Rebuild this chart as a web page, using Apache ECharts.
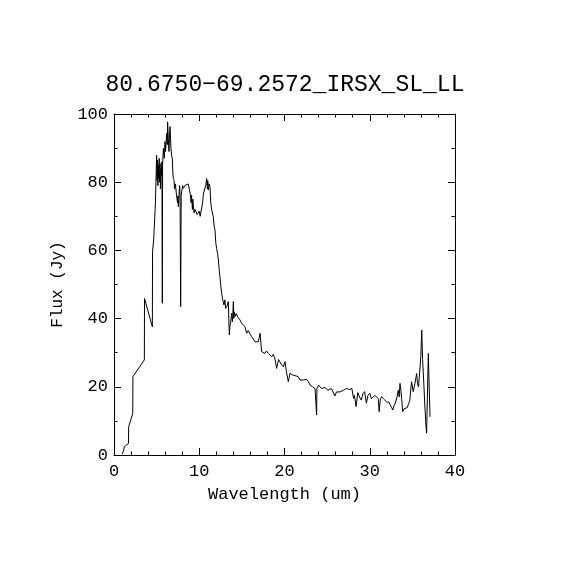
<!DOCTYPE html>
<html>
<head>
<meta charset="utf-8">
<script src="https://cdn.jsdelivr.net/npm/echarts@6/dist/echarts.min.js"></script>
<style>html,body{margin:0;padding:0;background:#fff;}#c{width:570px;height:570px;}</style>
</head>
<body>
<div id="c"></div>
<script>
var titleText = '80.6750\u221269.2572_IRSX_SL_LL';
var xName = 'Wavelength (um)';
var yName = 'Flux (Jy)';
var xTicks = [0, 10, 20, 30, 40];
var yTicks = [0, 20, 40, 60, 80, 100];

var wavelength = [0.95,1.15,1.2,1.7,1.72,2.2,2.22,3.56,3.58,4.5,4.52,4.65,4.85,5.0,
5.05,5.1,5.15,5.2,5.25,5.3,5.35,5.4,5.45,5.5,5.55,5.62,5.67,5.7,5.79,5.9,5.98,6.05,6.18,6.25,6.29,6.37,6.45,6.5,6.57,6.68,6.75,6.84,6.9,6.96,7.05,7.1,7.2,7.3,7.35,7.45,7.5,7.55,7.6,7.7,7.75,7.82,7.88,7.94,8.05,8.13,8.3,8.5,8.7,8.84,8.95,9.05,9.1,9.2,9.25,9.3,9.4,9.5,9.62,9.75,9.9,10.0,10.1,10.28,10.4,10.48,10.6,10.75,10.87,10.95,11.0,11.07,11.15,11.26,11.35,11.46,11.55,11.65,11.75,11.85,11.95,12.04,12.15,12.24,12.35,12.43,12.55,12.63,12.75,12.83,12.9,13.0,13.1,13.14,13.22,13.3,13.41,13.53,13.6,13.7,13.8,13.9,14.0,14.05,14.1,14.19,14.35,14.5,14.65,14.78,14.98,15.15,15.37,15.56,15.75,15.95,16.15,16.35,16.54,16.75,16.93,17.13,17.32,17.5,17.71,17.9,18.1,18.3,18.5,18.7,18.9,19.08,19.3,19.47,19.65,19.87,20.06,20.25,20.45,20.65,20.9,21.2,21.43,21.6,21.82,22.2,22.6,22.8,23.0,23.3,23.58,23.77,23.8,24.0,24.17,24.35,24.56,24.75,24.95,25.1,25.3,25.5,25.7,25.9,26.1,26.3,26.5,26.7,26.9,27.1,27.3,27.6,27.9,28.1,28.2,28.4,28.6,28.8,29.0,29.2,29.4,29.6,29.8,30.0,30.2,30.4,30.6,30.8,31.0,31.1,31.25,31.4,31.6,31.8,32.0,32.1,32.25,32.4,32.55,32.7,32.85,33.0,33.2,33.35,33.45,33.55,33.65,33.74,33.86,34.0,34.2,34.4,34.55,34.7,34.9,35.1,35.3,35.5,35.6,35.72,35.8,35.99,36.1,36.2,36.36,36.45,36.6,36.67,36.87,36.95,37.07];

var flux = [0.3,1.5,2.4,3.4,8.3,12.2,23.0,27.9,45.9,37.6,59.6,63,73.3,87.9,
80.5,86.5,79,85,81,87,80,85.5,78,84,82,86,44.5,85,89.9,87,91.9,89,94.3,91,97.7,92.9,89,93,96.3,90,88,87,83,81.1,80.5,78,79.5,77,77.2,74,76,72.8,75,79,76,43.5,76,77.2,79,78.2,79,78.8,79.5,79.2,76.5,74,76.2,72,75,73.3,71,72,71.4,70.5,70.4,71.5,70,69.9,74,76.5,77,79,81.1,78,80.5,77.7,79.5,78.7,74,71.9,72,69.9,67,65.9,62,60.6,59,57.2,54,52.3,49,47.4,45.5,45.4,44,45.5,43,43.5,42.5,44,45.0,35.2,38,39,41.6,39,45.0,40,42,40.6,41.5,40.5,40,39.6,38.6,39,37.6,35.7,36.5,35.5,34.7,34.5,33.2,33.5,33.2,35.7,30.3,30.5,29.8,30.5,29.8,30,28.8,29.5,27.9,25.4,28,27.9,26.5,25.9,27.4,24,21.5,24.0,23.5,23.3,23.5,23,22.0,22,22.2,21.5,20.5,20,19.5,11.7,19.5,20.5,20.0,19.5,19.0,19.8,19.5,19,18.6,19.5,18.5,17.3,18.5,19.0,18.5,18.8,19,19.5,19.5,19.2,19.5,16.6,17.5,14.2,18.3,17,16.1,18,18.6,15.2,17.5,18.1,16.5,16.1,17.5,17.6,16.5,12.7,16.5,17.1,16.5,16.9,15.5,15.2,15.5,14.7,14,13.2,14.5,15.2,17.1,19,17,21.0,19,16.6,12.7,13.5,13.2,13.9,15.0,16,21.5,18.6,21,23.9,21,20,22.5,28.8,36.6,28,20,15,8.3,6.4,29.8,22,11.2];

var points = wavelength.map(function (w, i) { return [w, flux[i]]; });

var font = 'Liberation Mono';
var chart = echarts.init(document.getElementById('c'));
var axisCommon = {
  axisLine: { show: true, onZero: false, lineStyle: { color: '#000', width: 1 } },
  axisTick: { show: true, inside: true, length: 7, lineStyle: { color: '#000', width: 1 } },
  minorTick: { show: true, length: 3.5, lineStyle: { color: '#000', width: 1 } },
  splitLine: { show: false },
  minorSplitLine: { show: false }
};
chart.setOption({
  animation: false,
  backgroundColor: '#fff',
  title: {
    text: titleText, left: 'center', top: 68,
    textStyle: { fontFamily: font, fontSize: 23, fontWeight: 'normal', color: '#000' }
  },
  grid: { left: 114, right: 115, top: 114, bottom: 115, containLabel: false },
  xAxis: [
    Object.assign({}, axisCommon, {
      type: 'value', position: 'bottom', min: xTicks[0], max: xTicks[xTicks.length - 1], interval: 10,
      minorTick: Object.assign({}, axisCommon.minorTick, { splitNumber: 5 }),
      name: xName, nameLocation: 'middle', nameGap: 31,
      nameTextStyle: { fontFamily: font, fontSize: 17, color: '#000' },
      axisLabel: { fontFamily: font, fontSize: 17, color: '#000', margin: 8 }
    }),
    Object.assign({}, axisCommon, {
      type: 'value', position: 'top', min: xTicks[0], max: xTicks[xTicks.length - 1], interval: 10,
      minorTick: Object.assign({}, axisCommon.minorTick, { splitNumber: 5 }),
      axisLabel: { show: false }
    })
  ],
  yAxis: [
    Object.assign({}, axisCommon, {
      type: 'value', position: 'left', min: yTicks[0], max: yTicks[yTicks.length - 1], interval: 20,
      minorTick: Object.assign({}, axisCommon.minorTick, { splitNumber: 2 }),
      name: yName, nameLocation: 'middle', nameGap: 48, nameRotate: 90,
      nameTextStyle: { fontFamily: font, fontSize: 16, color: '#000' },
      axisLabel: { fontFamily: font, fontSize: 17, color: '#000', margin: 6 }
    }),
    Object.assign({}, axisCommon, {
      type: 'value', position: 'right', min: yTicks[0], max: yTicks[yTicks.length - 1], interval: 20,
      minorTick: Object.assign({}, axisCommon.minorTick, { splitNumber: 2 }),
      axisLabel: { show: false }
    })
  ],
  series: [{
    type: 'line', data: points, xAxisIndex: 0, yAxisIndex: 0,
    showSymbol: false, symbol: 'none',
    lineStyle: { color: '#000', width: 1 }
  }]
});
</script>
</body>
</html>
